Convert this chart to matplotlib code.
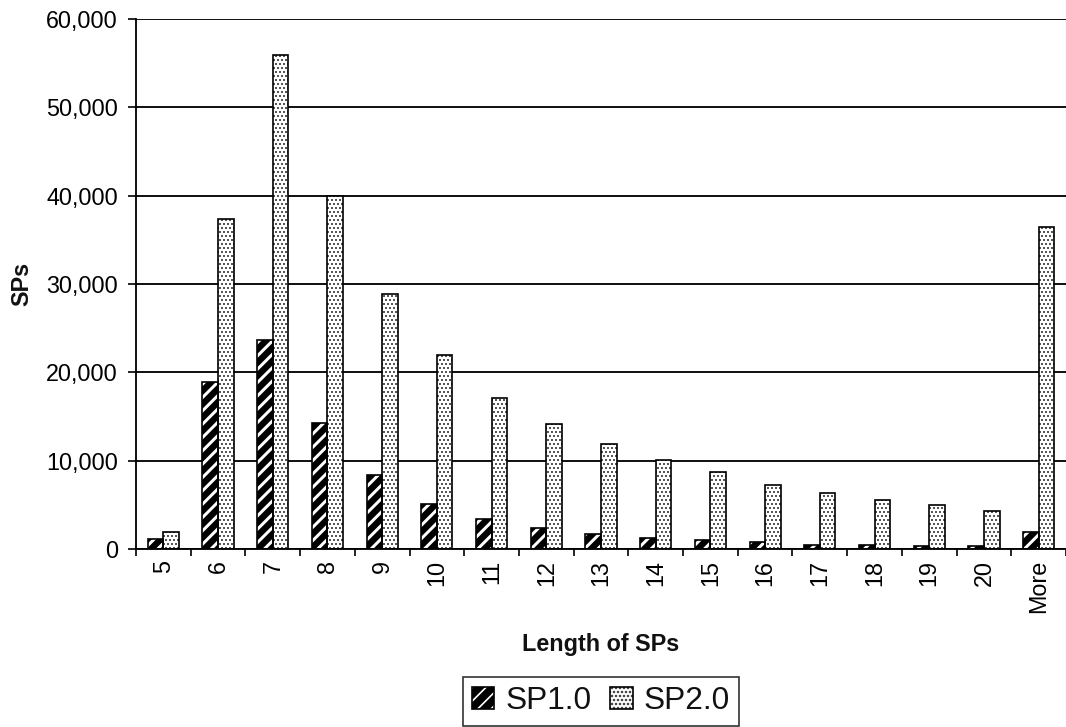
import matplotlib
matplotlib.use("Agg")
import matplotlib.pyplot as plt
import numpy as np
from matplotlib.patches import Patch
from matplotlib.legend_handler import HandlerTuple
from matplotlib.ticker import FuncFormatter, FixedLocator

categories = ["5", "6", "7", "8", "9", "10", "11", "12", "13", "14", "15",
              "16", "17", "18", "19", "20", "More"]
sp1 = [1100, 18900, 23700, 14300, 8350, 5050, 3350, 2400, 1750, 1300, 1000,
       750, 500, 450, 300, 300, 1950]
sp2 = [1950, 37340, 55900, 40000, 28900, 22000, 17150, 14100, 11850, 10100,
       8700, 7200, 6350, 5500, 5000, 4250, 36430]
series_names = ["SP1.0", "SP2.0"]
y_ticks = [0, 10000, 20000, 30000, 40000, 50000, 60000]

DPI = 120
plt.rcParams["font.family"] = ["Liberation Sans", "DejaVu Sans"]
plt.rcParams["text.color"] = "#111111"

fig = plt.figure(figsize=(1066 / DPI, 727 / DPI), dpi=DPI)
ax = fig.add_axes([136 / 1066, 1 - 549 / 727, 1 - 136 / 1066, (549 - 19) / 727])

x = np.arange(len(categories))
w = 0.285

# striped series: black fill with white diagonal hatch, then a black outline
with plt.rc_context({"hatch.linewidth": 1.8}):
    ax.bar(x - w / 2, sp1, w, facecolor="black", edgecolor="white",
           hatch="///", linewidth=0, zorder=2)
ax.bar(x - w / 2, sp1, w, fill=False, edgecolor="black", linewidth=1.0, zorder=3)

# dotted series: white fill with fine dot hatch, then a black outline
with plt.rc_context({"hatch.linewidth": 0.7}):
    ax.bar(x + w / 2, sp2, w, facecolor="white", edgecolor="#2a2a2a",
           hatch=".....", linewidth=0, zorder=2)
ax.bar(x + w / 2, sp2, w, fill=False, edgecolor="black", linewidth=1.0, zorder=3)

ax.set_xlim(-0.5, len(categories) - 0.5)
ax.set_ylim(0, 60000)
ax.set_yticks(y_ticks)
ax.yaxis.set_major_formatter(FuncFormatter(lambda v, p: f"{int(v):,}"))
ax.yaxis.grid(True, color="black", linewidth=1.1)
ax.set_axisbelow(True)

# ticks sit between categories, labels at category centres
ax.xaxis.set_major_locator(FixedLocator(np.arange(len(categories) + 1) - 0.5))
ax.xaxis.set_major_formatter(FuncFormatter(lambda v, p: ""))
ax.xaxis.set_minor_locator(FixedLocator(x))
ax.set_xticklabels(categories, minor=True, rotation=90, va="top", ha="center")
ax.tick_params(axis="x", which="major", length=4.2, width=1.0, direction="out")
ax.tick_params(axis="x", which="minor", length=0, pad=6.6, labelsize=14)
ax.tick_params(axis="y", length=4.8, width=1.0, direction="out", pad=6.0,
               labelsize=14)

for side in ("top", "right"):
    ax.spines[side].set_visible(False)
for side in ("left", "bottom"):
    ax.spines[side].set_linewidth(1.1)
    ax.spines[side].set_color("black")

fig.text(22 / 1066, 1 - 284 / 727, "SPs", rotation=90, ha="center",
         va="center", fontsize=14, fontweight="bold")
fig.text(601 / 1066, 1 - 645 / 727, "Length of SPs", ha="center",
         va="center", fontsize=14, fontweight="bold")

# legend with the same fills as the bars
with plt.rc_context({"hatch.linewidth": 1.8}):
    h1f = Patch(facecolor="black", edgecolor="white", hatch="///", linewidth=0)
with plt.rc_context({"hatch.linewidth": 0.7}):
    h2f = Patch(facecolor="white", edgecolor="#2a2a2a", hatch=".....", linewidth=0)
h1o = Patch(fill=False, edgecolor="black", linewidth=1.0)
h2o = Patch(fill=False, edgecolor="black", linewidth=1.0)
leg = fig.legend([(h1f, h1o), (h2f, h2o)], series_names,
                 handler_map={tuple: HandlerTuple(ndivide=1, pad=0)},
                 loc="center", bbox_to_anchor=(601 / 1066, 1 - 701 / 727),
                 ncol=2, fontsize=19, frameon=True, fancybox=False,
                 edgecolor="black", handlelength=0.7, handleheight=0.7,
                 handletextpad=0.35, columnspacing=0.6, borderpad=0.3,
                 borderaxespad=0)
leg.get_frame().set_linewidth(1.0)

fig.savefig("out.png", dpi=DPI, facecolor="white")
